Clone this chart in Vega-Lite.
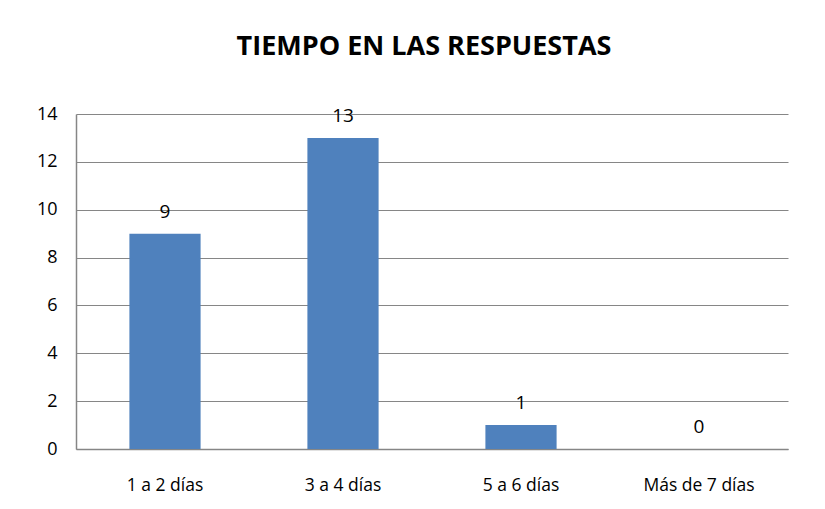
{
  "$schema": "https://vega.github.io/schema/vega-lite/v6.json",
  "width": 712,
  "height": 335,
  "padding": {"left": 76, "top": 114, "right": 37, "bottom": 60},
  "autosize": {"type": "none"},
  "background": "white",
  "data": {
    "values": [
      {"categoria": "1 a 2 días", "valor": 9},
      {"categoria": "3 a 4 días", "valor": 13},
      {"categoria": "5 a 6 días", "valor": 1},
      {"categoria": "Más de 7 días", "valor": 0}
    ]
  },
  "title": {
    "text": "TIEMPO EN LAS RESPUESTAS",
    "font": "Open Sans",
    "fontSize": 27,
    "fontWeight": "bold",
    "color": "#000000",
    "anchor": "middle",
    "dx": -8,
    "offset": 44
  },
  "config": {
    "view": {"stroke": null},
    "font": "Open Sans"
  },
  "encoding": {
    "x": {
      "field": "categoria",
      "type": "nominal",
      "sort": null,
      "scale": {"paddingInner": 0.6, "paddingOuter": 0.3},
      "axis": {
        "title": null,
        "labelAngle": 0,
        "ticks": false,
        "labelPadding": 27,
        "labelFont": "Open Sans",
        "labelFontSize": 17.5,
        "labelColor": "#000000",
        "domainColor": "#868686",
        "domainWidth": 1.5
      }
    },
    "y": {
      "field": "valor",
      "type": "quantitative",
      "scale": {"domain": [0, 14], "nice": false},
      "axis": {
        "title": null,
        "values": [0, 2, 4, 6, 8, 10, 12, 14],
        "ticks": false,
        "labelPadding": 19,
        "labelFont": "Open Sans",
        "labelFontSize": 18,
        "labelColor": "#000000",
        "gridColor": "#868686",
        "gridWidth": 1,
        "gridOpacity": 1,
        "domainColor": "#868686",
        "domainWidth": 1.5
      }
    }
  },
  "layer": [
    {"mark": {"type": "bar", "color": "#4F81BD"}},
    {
      "mark": {
        "type": "text",
        "baseline": "bottom",
        "dy": -12,
        "font": "Open Sans",
        "fontSize": 19,
        "color": "#000000"
      },
      "encoding": {"text": {"field": "valor", "type": "quantitative"}}
    }
  ]
}
